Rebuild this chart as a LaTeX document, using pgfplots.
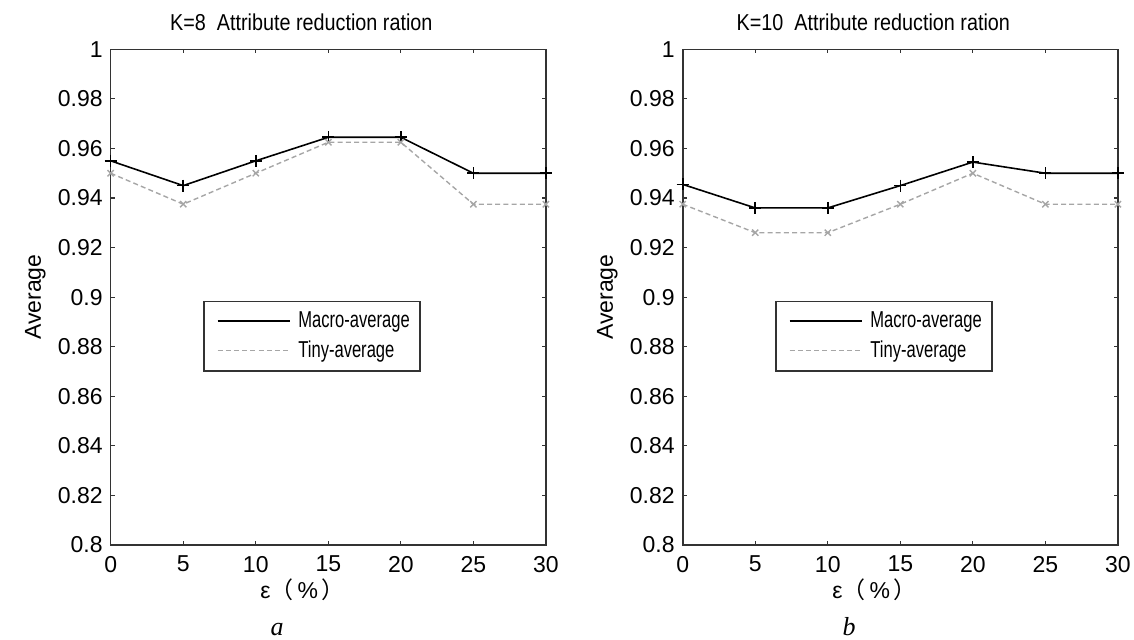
\documentclass[border=0pt]{standalone}
\usepackage{fontspec}
\setmainfont{Liberation Sans}
\newfontfamily\cjk{Noto Sans CJK SC}
\newfontfamily\capfont{Liberation Serif}
\usepackage{graphicx}
\usepackage{pgfplots}
\pgfplotsset{compat=1.18}

% MATLAB-like panel
\pgfplotsset{
  panel/.style={
    scale only axis,
    width=217.6pt, height=247.85pt,
    xmin=0, xmax=30, ymin=0.8, ymax=1,
    xtick={0,5,10,15,20,25,30},
    ytick={0.8,0.82,0.84,0.86,0.88,0.9,0.92,0.94,0.96,0.98,1},
    tick align=inside,
    major tick length=2pt,
    tick style={black!80, line width=0.6pt},
    axis line style={black!80, line width=0.8pt},
    /pgf/number format/assume math mode=true,
    yticklabel style={/pgf/number format/fixed, /pgf/number format/precision=2},
    xticklabel style={yshift=-1.5pt},
    clip=false,
    title style={at={(0.438,1)}, anchor=base, yshift=3.3pt},
    xlabel={ε{\cjk （}\,\%\,{\cjk ）}},
    xlabel style={at={(axis description cs:0.441,-0.107)}, anchor=base},
    ylabel={Average},
    ylabel style={at={(axis description cs:-0.1602,0.5)}, anchor=base},
    legend cell align=left,
    legend image code/.code={\path (-3.5pt,0pt); \draw[#1] (0pt,0pt) -- (36pt,0pt); \path (38pt,0pt);},
    legend style={at={(0.212,0.493)}, anchor=north west, draw=black!80,
      line width=0.8pt, fill=white, inner xsep=3pt, inner ysep=3pt,
      row sep=1pt},
  },
  macro/.style={black, line width=0.8pt, mark=+, mark size=3pt},
  tiny/.style={black!35, line width=0.7pt, dash pattern=on 2.5pt off 1.6pt,
    mark=x, mark size=2.2pt, mark options={solid}},
}
\newcommand{\nar}[2][0.72]{\scalebox{#1}[1]{#2}}

\begin{document}
\fontsize{11.5}{14}\selectfont
\begin{tikzpicture}
\useasboundingbox (0,0) rectangle (567pt,319.5pt);

\begin{axis}[panel, at={(55.35pt,47pt)}, anchor=south west,
  title={\nar[0.86]{K=8\ \ Attribute reduction ration}}]
  \addplot[macro] coordinates {
    (0,0.955) (5,0.945) (10,0.955) (15,0.9645) (20,0.9645) (25,0.95) (30,0.95)
  };
  \addlegendentry{\nar{Macro-average}}
  \addplot[tiny] coordinates {
    (0,0.95) (5,0.9375) (10,0.95) (15,0.9625) (20,0.9625) (25,0.9375) (30,0.9375)
  };
  \addlegendentry{\nar{Tiny-average}}
\end{axis}

\begin{axis}[panel, at={(341.35pt,47pt)}, anchor=south west,
  title={\nar[0.86]{K=10\ \ Attribute reduction ration}}]
  \addplot[macro] coordinates {
    (0,0.9455) (5,0.936) (10,0.936) (15,0.945) (20,0.9545) (25,0.95) (30,0.95)
  };
  \addlegendentry{\nar{Macro-average}}
  \addplot[tiny] coordinates {
    (0,0.9375) (5,0.926) (10,0.926) (15,0.9375) (20,0.95) (25,0.9375) (30,0.9375)
  };
  \addlegendentry{\nar{Tiny-average}}
\end{axis}

\node[anchor=base, font={\fontsize{13}{15}\selectfont\capfont\itshape}] at (138.5pt,2pt) {a};
\node[anchor=base, font={\fontsize{13}{15}\selectfont\capfont\itshape}] at (424.5pt,2pt) {b};
\end{tikzpicture}
\end{document}
